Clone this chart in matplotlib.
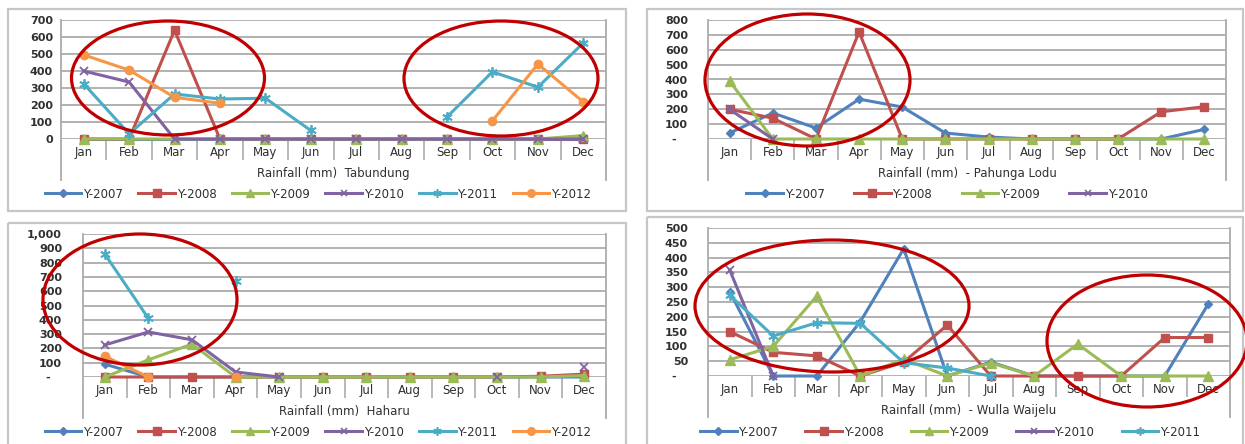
import numpy as np
import matplotlib
matplotlib.use("Agg")
import matplotlib.pyplot as plt
from matplotlib.lines import Line2D
from matplotlib.patches import Ellipse, Rectangle

nan = np.nan
months = ["Jan", "Feb", "Mar", "Apr", "May", "Jun", "Jul", "Aug", "Sep", "Oct", "Nov", "Dec"]
years = ["Y-2007", "Y-2008", "Y-2009", "Y-2010", "Y-2011", "Y-2012"]

# Rainfall (mm) per station and year
tabundung_2007 = [0, 0, 0, 0, 0, 0, 0, 0, 0, 0, 0, 0]
tabundung_2008 = [0, 0, 640, 0, 0, 0, 0, 0, 0, 0, 0, 0]
tabundung_2009 = [0, 0, 0, 0, 0, 0, 0, 0, 0, 0, 0, 20]
tabundung_2010 = [400, 335, 0, 0, 0, 0, 0, 0, 0, 0, 0, 0]
tabundung_2011 = [325, 30, 265, 235, 240, 50, nan, nan, 130, 395, 305, 565]
tabundung_2012 = [495, 405, 245, 210, nan, nan, nan, nan, nan, 107, 441, 218]

pahunga_2007 = [40, 175, 74, 268, 215, 40, 13, 0, 0, 0, 0, 65]
pahunga_2008 = [200, 140, 0, 720, 0, 0, 0, 0, 0, 0, 183, 217]
pahunga_2009 = [390, 0, 0, 0, 0, 0, 0, 0, 0, 0, 0, 0]
pahunga_2010 = [200, 0, nan, nan, nan, nan, nan, nan, nan, nan, nan, nan]

haharu_2007 = [90, 0, 0, 0, 0, 0, 0, 0, 0, 0, 0, 0]
haharu_2008 = [0, 0, 0, 0, 0, 0, 0, 0, 0, 0, 5, 20]
haharu_2009 = [0, 120, 230, 0, 0, 0, 0, 0, 0, 0, 0, 10]
haharu_2010 = [224, 315, 260, 35, 0, nan, nan, nan, nan, 0, nan, 70]
haharu_2011 = [860, 410, nan, 670, nan, nan, nan, nan, nan, nan, nan, nan]
haharu_2012 = [145, 0, nan, 0, nan, nan, nan, nan, nan, nan, nan, nan]

wulla_2007 = [285, 0, 0, 183, 430, 0, 47, 0, 0, 0, 0, 243]
wulla_2008 = [150, 80, 68, 0, 47, 172, 0, 0, 0, 0, 130, 130]
wulla_2009 = [55, 100, 270, 0, 57, 0, 44, 0, 108, 0, 0, 0]
wulla_2010 = [358, 0, nan, nan, nan, nan, nan, nan, nan, nan, nan, nan]
wulla_2011 = [273, 135, 180, 178, 45, 27, 0, nan, nan, nan, nan, nan]

titles = ["Rainfall (mm)  Tabundung", "Rainfall (mm)  - Pahunga Lodu",
          "Rainfall (mm)  Haharu", "Rainfall (mm)  - Wulla Waijelu"]

colors = ["#4F81BD", "#C0504D", "#9BBB59", "#8064A2", "#4BACC6", "#F79646"]
markers = ["D", "s", "^", "x", (6, 2, 0), "o"]
msizes = [4.5, 6, 6.5, 6, 7.5, 6]
leg_msizes = [4, 5.5, 5.5, 5, 6, 5.5]

plt.rcParams["font.family"] = ["DejaVu Sans"]
TXT = "#303030"
GRID = "#ababab"
FS = 8.5

W, H = 1245, 444
fig = plt.figure(figsize=(W / 100, H / 100), dpi=100)

bg = fig.add_axes([0, 0, 1, 1], zorder=0)
bg.set_xlim(0, W); bg.set_ylim(H, 0); bg.axis("off")
fg = fig.add_axes([0, 0, 1, 1], zorder=10)
fg.set_xlim(0, W); fg.set_ylim(H, 0); fg.axis("off")
fg.patch.set_alpha(0)

# chart-area borders
for (l, t, r, b) in [(8, 9, 626, 211), (647, 9, 1243, 211), (8, 223, 626, 470), (647, 217, 1243, 470)]:
    bg.add_patch(Rectangle((l, t), r - l, b - t, fill=False, ec="#c6c6c6", lw=1.6))


def panel(box, series, ymax, step, title, ylabels, ypad_px, legend_cx, legend_cy, colspace):
    l, t, r, b = box
    ax = fig.add_axes([l / W, 1 - b / H, (r - l) / W, (b - t) / H], zorder=1)
    ax.patch.set_alpha(0)
    x = np.arange(12)
    for i, ys in enumerate(series):
        ax.plot(x, ys, color=colors[i], lw=2.2, marker=markers[i], ms=msizes[i],
                mew=1.3 if i in (3, 4) else 1.0, clip_on=False, zorder=3 + i)
    ax.set_xlim(-0.5, 11.5)
    ax.set_ylim(0, ymax)
    for s in ax.spines.values():
        s.set_visible(False)
    yt = np.arange(0, ymax + 1, step)
    ax.set_yticks(yt)
    ax.set_yticklabels(ylabels, fontsize=8, fontweight="bold", color=TXT)
    ax.yaxis.grid(True, color=GRID, lw=1.3)
    ax.set_axisbelow(True)
    ax.tick_params(axis="y", length=0, pad=ypad_px * 0.72)
    ax.set_xticks(x)
    ax.set_xticklabels(months, fontsize=FS, color=TXT)
    ax.tick_params(axis="x", which="major", length=0, pad=5)
    ax.set_xticks(np.arange(0.5, 11, 1), minor=True)
    ax.tick_params(axis="x", which="minor", length=21 * 0.72, width=1.2, color=GRID)
    ph = b - t
    ext = -41 / ph
    for xx in (0, 1):
        ax.plot([xx, xx], [1, ext], transform=ax.transAxes, color=GRID, lw=1.3, clip_on=False)
    ax.text(0.5, -34 / ph, title, transform=ax.transAxes, ha="center", va="center",
            fontsize=FS, color=TXT)
    handles = [Line2D([], [], color=colors[i], lw=2.2, marker=markers[i], ms=leg_msizes[i],
                      mew=1.2 if i in (3, 4) else 1.0) for i in range(len(series))]
    ax.legend(handles, years[:len(series)], loc="center",
              bbox_to_anchor=(legend_cx / W, 1 - legend_cy / H), bbox_transform=fig.transFigure,
              ncol=len(series), frameon=False, fontsize=FS, handlelength=3.1,
              handletextpad=0.15, columnspacing=colspace, borderaxespad=0, borderpad=0,
              labelcolor=TXT)
    return ax


panel((61, 20, 606, 139),
      [tabundung_2007, tabundung_2008, tabundung_2009, tabundung_2010, tabundung_2011, tabundung_2012],
      700, 100, titles[0], [str(v) for v in range(0, 701, 100)], 8, 318, 194, 1.3)

panel((708, 20, 1226, 139),
      [pahunga_2007, pahunga_2008, pahunga_2009, pahunga_2010],
      800, 100, titles[1], ["-   "] + [str(v) for v in range(100, 801, 100)], 20, 947, 194, 2.5)

panel((83, 234, 606, 377),
      [haharu_2007, haharu_2008, haharu_2009, haharu_2010, haharu_2011, haharu_2012],
      1000, 100, titles[2], ["-   "] + [f"{v:,}" for v in range(100, 1001, 100)], 21, 318, 432, 1.3)

panel((708, 228, 1230, 376),
      [wulla_2007, wulla_2008, wulla_2009, wulla_2010, wulla_2011],
      500, 50, titles[3], ["-   "] + [str(v) for v in range(50, 501, 50)], 20, 950, 432, 2.3)

# highlighted periods
for (cx, cy, w, h) in [(168, 78, 193, 114), (501, 78.5, 194, 115), (807.5, 80, 205, 132),
                       (140, 299.5, 194, 131), (832, 306, 274, 132), (1147, 341, 200, 132)]:
    fg.add_patch(Ellipse((cx, cy), w, h, fill=False, ec="#C00000", lw=2.3))

fig.savefig("out.png", dpi=100)
